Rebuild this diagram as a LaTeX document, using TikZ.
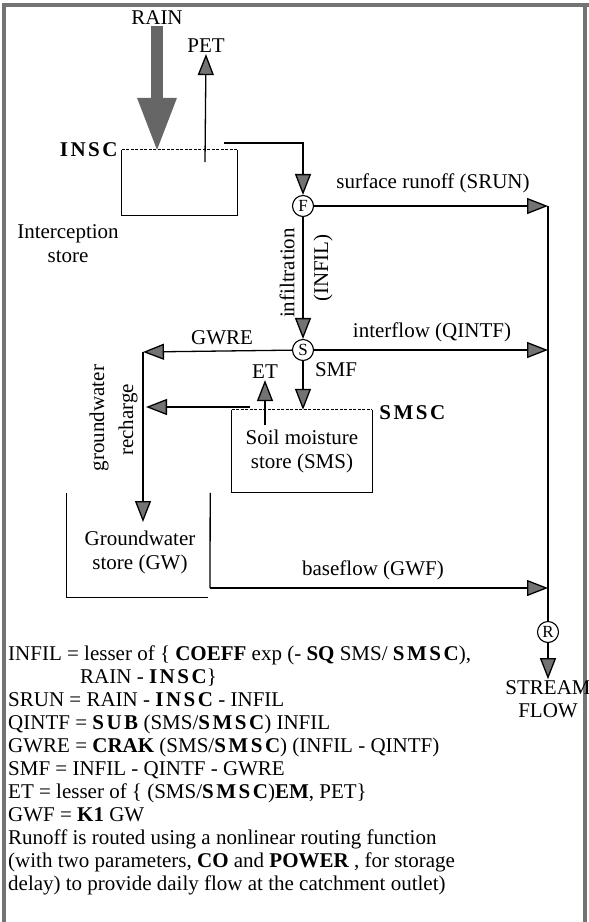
\documentclass[tikz,border=0pt]{standalone}
\usepackage{fontspec}
\setmainfont{Liberation Serif}
\newfontfamily\spacedfont[LetterSpace=12]{Liberation Serif}
\usetikzlibrary{positioning,arrows.meta,calc}

% parametros en negrita
\newcommand{\prm}[1]{{\bfseries #1}}
\newcommand{\sprm}[1]{{\spacedfont\bfseries #1}}

\begin{document}
\begin{tikzpicture}[x=1pt, y=-1pt,
    >={Triangle[length=21pt 0 0, width=16pt 0 0, fill=black!55]},
    flow/.style={->, line width=1.3pt},
    pipe/.style={line width=1.3pt},
    lbl/.style={font=\fontsize{21}{23}\selectfont, inner sep=1pt},
    junc/.style={circle, draw, line width=1.1pt, minimum size=21pt, inner sep=0pt, fill=white, font=\fontsize{17}{17}\selectfont},
    tank/.style={rectangle, inner sep=0pt}]

  \useasboundingbox (0,0) rectangle (589,922);

  % Marco
  \draw[black!55, line width=3.5pt] (4,922) -- (4,5) -- (589,5);
  \draw[black!55, line width=3.5pt] (585,5) -- (585,922);

  % Almacenes
  \node[tank, minimum width=115pt, minimum height=65pt] (insc) at (179.5,182.5) {};
  \node[tank, minimum width=140pt, minimum height=82pt, align=center, font=\fontsize{21}{24}\selectfont] (sms) at (302,451) {Soil moisture\\store (SMS)};
  \node[tank, minimum width=143pt, minimum height=104pt] (gw) at (138.5,545) {};

  % Nodos de union
  \node[junc] (f) at (303,206) {F};
  \node[junc] (s) at (303,350) {S};
  \node[junc] (r) at (548,632) {R};

  % Etiquetas
  \node[lbl] (rain) at (157,18) {RAIN};
  \node[lbl] (pet) at (206,46) {PET};
  \node[lbl, anchor=east] (insclbl) at ($(insc.north west)+(-3,0)$) {\sprm{INSC}};
  \node[lbl, align=center, font=\fontsize{21}{24}\selectfont] (intlbl) at (68,244) {Interception\\store};
  \node[lbl] (srunlbl) at (433,183) {surface runoff (SRUN)};
  \node[lbl, rotate=90] (infil1) at (287,273) {infiltration};
  \node[lbl, rotate=90] (infil2) at (323,268) {(INFIL)};
  \node[lbl] (qintflbl) at (432,332) {interflow (QINTF)};
  \node[lbl] (gwrelbl) at (222,338) {GWRE};
  \node[lbl, right=3pt of s.south east, yshift=-12pt] (smflbl) {SMF};
  \node[lbl] (et) at (265,372) {ET};
  \node[lbl, anchor=west] (smsclbl) at ($(sms.north east)+(6,3)$) {\sprm{SMSC}};
  \node[lbl, rotate=90] (gwr1) at (99,418) {groundwater};
  \node[lbl, rotate=90] (gwr2) at (128,420) {recharge};
  \node[lbl, align=center, font=\fontsize{21}{24}\selectfont] (gwlbl) at (140,552) {Groundwater\\store (GW)};
  \node[lbl] (gwflbl) at (373,570) {baseflow (GWF)};
  \node[lbl, align=center, font=\fontsize{21}{23}\selectfont] (stream) at (548,699) {STREAM\\FLOW};

  % Puntos auxiliares
  \coordinate (tstart) at (224,143);
  \coordinate (petfoot) at (205,162);
  \coordinate (fout) at (548,206);
  \coordinate (sout) at (548,350);
  \coordinate (gwcorner) at (143,352);
  \coordinate (gwin) at (143,522);
  \coordinate (smsout) at (250,407);
  \coordinate (gwmid) at (146,407);
  \coordinate (etfoot) at (265,425);
  \coordinate (gwbase) at (210,588);
  \coordinate (bout) at (548,588);

  % Paredes de los almacenes (tapa a trazos)
  \draw[pipe] (insc.north west) -- (insc.south west) -- (insc.south east) -- (insc.north east);
  \draw[pipe, dashed, dash pattern=on 3pt off 1.5pt] (insc.north west) -- (insc.north east);
  \draw[pipe] (sms.north west) -- (sms.south west) -- (sms.south east) -- (sms.north east);
  \draw[pipe, dashed, dash pattern=on 3pt off 1.5pt] (sms.north west) -- (sms.north east);
  \draw[pipe] (gw.north west) -- (gw.south west) -- ($(gw.south east)+(-2,0)$);
  \draw[pipe] (gw.north east) -- (gwbase);

  % Lluvia y evaporacion
  \draw[line width=12pt, black!60, -{Triangle[length=52pt 0 0, width=40pt 0 0, line width=0pt 0 0]}] (rain.south) -- (insc.north -| rain);
  \draw[flow] (petfoot) -- (pet.south);
  \draw[flow] (tstart) -| (f.north);

  % Flujos principales
  \draw[flow] (f) -- (fout);
  \draw[flow] (f) -- (s);
  \draw[flow] (s) -- (sout);
  \draw[flow] (s) -- (gwcorner);
  \draw[flow] (gwcorner) -- (gwin);
  \draw[flow] (s) -- (s |- sms.north);
  \draw[flow] (smsout) -- (gwmid);
  \draw[flow] (etfoot) -- (et.south);
  \draw[flow] (gwbase) -- (bout);
  \draw[pipe] (fout) -- (r.north);
  \draw[flow] (r) -- (stream.north);

  % Ecuaciones
  \node[anchor=north west, align=left, inner sep=0pt, font=\fontsize{21}{23}\selectfont] (eqs) at (8,646) {%
    INFIL = lesser of \{ \prm{COEFF} exp (- \prm{SQ} SMS/ \sprm{SMSC}),\\
    \hspace*{72pt}RAIN - \sprm{INSC}\}\\
    SRUN = RAIN - \sprm{INSC} - INFIL\\
    QINTF = \sprm{SUB} (SMS/\sprm{SMSC}) INFIL\\
    GWRE = \prm{CRAK} (SMS/\sprm{SMSC}) (INFIL - QINTF)\\
    SMF = INFIL - QINTF - GWRE\\
    ET = lesser of \{ (SMS/\sprm{SMSC})\prm{EM}, PET\}\\
    GWF = \prm{K1} GW\\
    Runoff is routed using a nonlinear routing function\\
    (with two parameters, \prm{CO} and \prm{POWER} , for storage\\
    delay) to provide daily flow at the catchment outlet)};

\end{tikzpicture}
\end{document}
